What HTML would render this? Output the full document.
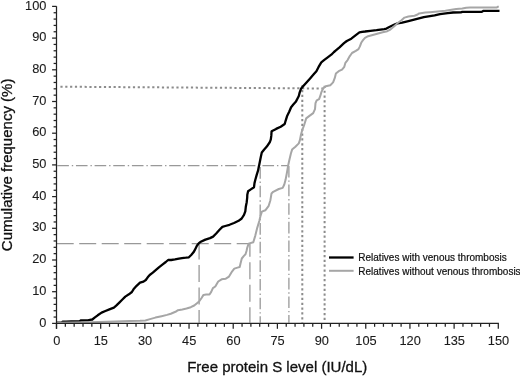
<!DOCTYPE html>
<html><head><meta charset="utf-8"><style>
html,body{margin:0;padding:0;background:#fff;}
body{width:520px;height:376px;overflow:hidden;font-family:"Liberation Sans",sans-serif;}
svg{display:block;will-change:transform;}
</style></head><body>
<svg width="520" height="376" viewBox="0 0 520 376">
<g stroke="#8c8c8c" stroke-width="2" fill="none">
<line x1="60.4" y1="86.7" x2="325" y2="88.5" stroke-dasharray="2.2 2.633"/>
<line x1="302.3" y1="85.2" x2="302.3" y2="322.5" stroke-dasharray="2.2 2.633"/>
<line x1="324.6" y1="85.8" x2="324.6" y2="322.5" stroke-dasharray="2.2 2.633"/>
</g>
<g stroke="#999" stroke-width="1.3" fill="none">
<line x1="57.3" y1="165.7" x2="289" y2="165.7" stroke-dasharray="11.6 2.9 1.4 2.75"/>
<line x1="260.2" y1="165.7" x2="260.2" y2="322.7" stroke-dasharray="11.6 2.9 1.4 2.75" stroke-dashoffset="-1.4"/>
<line x1="288.9" y1="165.7" x2="288.9" y2="322.7" stroke-dasharray="11.6 2.9 1.4 2.75" stroke-dashoffset="-0.2"/>
</g>
<g stroke="#999" stroke-width="1.3" fill="none">
<line x1="56.7" y1="243.6" x2="250.1" y2="243.6" stroke-dasharray="17 5.5"/>
<line x1="199.1" y1="243.6" x2="199.1" y2="322.7" stroke-dasharray="17 5.5" stroke-dashoffset="1"/>
<line x1="249.9" y1="243.6" x2="249.9" y2="322.7" stroke-dasharray="17 5.5" stroke-dashoffset="3.8"/>
</g>
<polyline points="56.5,322.6 62.0,322.3 62.5,321.7 66.1,321.7 71.4,321.3 79.8,321.1 80.5,320.5 87.9,320.4 90.0,319.9 92.3,319.5 94.6,317.6 97.7,315.3 101.6,312.6 105.4,311.0 110.0,309.1 113.9,307.6 116.2,305.6 119.3,302.6 122.4,299.5 125.3,296.6 128.9,294.3 131.9,292.0 133.5,289.3 136.6,285.8 140.0,282.7 143.5,281.6 145.8,280.0 147.7,277.3 149.7,275.0 152.8,272.7 155.4,270.4 158.9,267.3 162.7,264.3 165.8,262.0 168.1,260.0 171.2,260.0 175.0,259.4 178.9,258.6 182.0,258.1 185.8,257.7 188.9,257.3 191.2,255.0 193.5,252.3 194.6,250.4 196.9,245.8 198.9,243.1 200.8,241.8 205.4,239.6 210.0,238.1 213.1,236.6 216.2,233.5 219.3,230.0 222.4,226.9 225.3,226.0 229.5,224.8 234.0,223.0 238.6,220.8 241.7,218.5 244.0,214.9 245.3,211.3 245.8,206.8 246.7,202.2 247.2,197.7 247.3,194.8 248.1,191.2 250.8,189.4 254.0,187.2 254.5,183.1 255.4,179.5 256.7,174.9 258.1,170.4 258.8,166.8 259.3,164.5 260.0,161.0 260.9,156.5 261.8,152.4 264.0,149.7 266.8,146.6 269.9,142.0 270.8,139.3 271.3,135.7 271.6,131.2 276.1,128.9 280.7,126.7 284.7,124.0 285.6,120.8 287.0,116.3 289.2,111.8 291.1,107.2 293.3,104.5 296.0,101.4 297.4,98.7 298.8,96.0 299.7,92.4 301.0,88.8 303.3,86.1 306.5,82.5 310.1,78.4 313.7,74.3 316.4,71.2 318.6,66.9 321.3,62.4 324.0,60.2 327.7,57.4 331.3,54.7 334.0,52.0 335.9,50.4 339.5,47.3 344.0,43.2 346.8,41.0 351.3,38.7 355.8,35.1 359.4,32.4 362.1,31.8 365.0,31.5 370.4,30.8 376.5,30.2 380.4,29.6 384.2,29.1 386.5,28.6 388.8,27.3 391.9,25.8 395.0,24.4 397.6,23.4 402.2,22.6 408.4,21.1 416.1,19.2 423.8,17.2 430.0,16.2 434.6,15.4 440.0,14.2 447.7,13.1 453.1,12.5 460.8,12.3 462.3,11.8 481.5,11.9 483.5,10.8 499.5,10.8" fill="none" stroke="#000" stroke-width="2.3" stroke-linejoin="round"/>
<polyline points="56.5,322.8 90.0,322.3 115.0,321.6 130.0,321.0 140.0,320.8 145.4,320.5 150.0,319.1 155.4,317.6 161.6,316.2 167.0,314.9 170.8,313.7 175.5,311.8 178.0,310.2 182.3,309.4 186.5,308.5 190.8,307.2 194.2,305.5 196.7,303.4 199.3,301.3 201.4,298.3 203.5,294.9 206.1,294.5 209.5,294.5 211.2,291.9 212.9,288.1 215.3,286.5 218.2,281.5 221.6,279.3 225.8,278.7 229.0,276.6 232.2,271.3 234.3,268.6 237.5,267.6 239.7,267.0 240.7,262.8 241.8,258.5 243.9,255.9 245.5,254.3 246.5,251.0 247.3,247.6 248.6,243.6 253.3,242.2 255.3,235.6 257.3,227.6 259.3,221.0 260.6,215.6 261.9,211.6 265.3,210.3 268.7,205.8 270.4,200.2 271.5,193.5 273.2,191.8 278.8,189.0 282.7,187.9 284.3,184.5 285.5,180.1 286.6,174.5 287.4,170.0 288.1,165.8 289.3,160.2 290.9,153.5 292.1,149.6 295.4,146.8 298.8,143.4 299.9,140.1 301.0,134.5 302.3,130.0 304.4,124.3 306.2,118.4 309.1,116.1 313.2,113.1 315.0,109.1 315.5,103.2 316.7,100.3 319.1,99.1 320.2,96.2 321.4,92.1 323.1,88.5 325.8,86.3 330.3,85.2 333.1,82.4 334.8,77.9 335.9,73.5 338.7,71.2 342.0,69.6 344.3,66.8 345.4,62.8 347.6,60.1 349.8,56.1 352.0,53.0 355.8,50.9 358.5,49.1 359.9,46.4 361.2,42.8 363.0,40.1 365.0,37.8 368.1,36.2 372.7,35.0 378.1,33.5 382.7,32.3 387.3,31.2 390.4,29.6 393.0,27.2 395.0,25.6 397.6,23.0 401.5,20.3 404.5,17.6 408.4,16.5 414.5,15.7 417.6,14.5 419.2,13.4 425.3,12.6 430.0,12.2 437.7,11.5 445.4,10.8 450.0,10.0 456.2,9.1 462.3,8.5 466.2,7.8 470.0,7.6 497.0,7.5 497.5,6.8 498.8,6.8" fill="none" stroke="#a6a6a6" stroke-width="2.0" stroke-linejoin="round"/>
<g stroke="#222" stroke-width="1.25"><line x1="56.5" y1="6.3" x2="56.5" y2="328.8"/><line x1="55.9" y1="323.4" x2="498.9" y2="323.4"/><line x1="52.1" y1="323.40" x2="56.5" y2="323.40"/><line x1="53.6" y1="317.06" x2="56.5" y2="317.06"/><line x1="53.6" y1="310.72" x2="56.5" y2="310.72"/><line x1="53.6" y1="304.38" x2="56.5" y2="304.38"/><line x1="53.6" y1="298.04" x2="56.5" y2="298.04"/><line x1="52.1" y1="291.70" x2="56.5" y2="291.70"/><line x1="53.6" y1="285.36" x2="56.5" y2="285.36"/><line x1="53.6" y1="279.02" x2="56.5" y2="279.02"/><line x1="53.6" y1="272.68" x2="56.5" y2="272.68"/><line x1="53.6" y1="266.34" x2="56.5" y2="266.34"/><line x1="52.1" y1="260.00" x2="56.5" y2="260.00"/><line x1="53.6" y1="253.66" x2="56.5" y2="253.66"/><line x1="53.6" y1="247.32" x2="56.5" y2="247.32"/><line x1="53.6" y1="240.98" x2="56.5" y2="240.98"/><line x1="53.6" y1="234.64" x2="56.5" y2="234.64"/><line x1="52.1" y1="228.30" x2="56.5" y2="228.30"/><line x1="53.6" y1="221.96" x2="56.5" y2="221.96"/><line x1="53.6" y1="215.62" x2="56.5" y2="215.62"/><line x1="53.6" y1="209.28" x2="56.5" y2="209.28"/><line x1="53.6" y1="202.94" x2="56.5" y2="202.94"/><line x1="52.1" y1="196.60" x2="56.5" y2="196.60"/><line x1="53.6" y1="190.26" x2="56.5" y2="190.26"/><line x1="53.6" y1="183.92" x2="56.5" y2="183.92"/><line x1="53.6" y1="177.58" x2="56.5" y2="177.58"/><line x1="53.6" y1="171.24" x2="56.5" y2="171.24"/><line x1="52.1" y1="164.90" x2="56.5" y2="164.90"/><line x1="53.6" y1="158.56" x2="56.5" y2="158.56"/><line x1="53.6" y1="152.22" x2="56.5" y2="152.22"/><line x1="53.6" y1="145.88" x2="56.5" y2="145.88"/><line x1="53.6" y1="139.54" x2="56.5" y2="139.54"/><line x1="52.1" y1="133.20" x2="56.5" y2="133.20"/><line x1="53.6" y1="126.86" x2="56.5" y2="126.86"/><line x1="53.6" y1="120.52" x2="56.5" y2="120.52"/><line x1="53.6" y1="114.18" x2="56.5" y2="114.18"/><line x1="53.6" y1="107.84" x2="56.5" y2="107.84"/><line x1="52.1" y1="101.50" x2="56.5" y2="101.50"/><line x1="53.6" y1="95.16" x2="56.5" y2="95.16"/><line x1="53.6" y1="88.82" x2="56.5" y2="88.82"/><line x1="53.6" y1="82.48" x2="56.5" y2="82.48"/><line x1="53.6" y1="76.14" x2="56.5" y2="76.14"/><line x1="52.1" y1="69.80" x2="56.5" y2="69.80"/><line x1="53.6" y1="63.46" x2="56.5" y2="63.46"/><line x1="53.6" y1="57.12" x2="56.5" y2="57.12"/><line x1="53.6" y1="50.78" x2="56.5" y2="50.78"/><line x1="53.6" y1="44.44" x2="56.5" y2="44.44"/><line x1="52.1" y1="38.10" x2="56.5" y2="38.10"/><line x1="53.6" y1="31.76" x2="56.5" y2="31.76"/><line x1="53.6" y1="25.42" x2="56.5" y2="25.42"/><line x1="53.6" y1="19.08" x2="56.5" y2="19.08"/><line x1="53.6" y1="12.74" x2="56.5" y2="12.74"/><line x1="52.1" y1="6.40" x2="56.5" y2="6.40"/><line x1="56.50" y1="323.4" x2="56.50" y2="328.8"/><line x1="65.34" y1="323.4" x2="65.34" y2="326.8"/><line x1="74.17" y1="323.4" x2="74.17" y2="326.8"/><line x1="83.01" y1="323.4" x2="83.01" y2="326.8"/><line x1="91.84" y1="323.4" x2="91.84" y2="326.8"/><line x1="100.68" y1="323.4" x2="100.68" y2="328.8"/><line x1="109.52" y1="323.4" x2="109.52" y2="326.8"/><line x1="118.35" y1="323.4" x2="118.35" y2="326.8"/><line x1="127.19" y1="323.4" x2="127.19" y2="326.8"/><line x1="136.02" y1="323.4" x2="136.02" y2="326.8"/><line x1="144.86" y1="323.4" x2="144.86" y2="328.8"/><line x1="153.70" y1="323.4" x2="153.70" y2="326.8"/><line x1="162.53" y1="323.4" x2="162.53" y2="326.8"/><line x1="171.37" y1="323.4" x2="171.37" y2="326.8"/><line x1="180.20" y1="323.4" x2="180.20" y2="326.8"/><line x1="189.04" y1="323.4" x2="189.04" y2="328.8"/><line x1="197.88" y1="323.4" x2="197.88" y2="326.8"/><line x1="206.71" y1="323.4" x2="206.71" y2="326.8"/><line x1="215.55" y1="323.4" x2="215.55" y2="326.8"/><line x1="224.38" y1="323.4" x2="224.38" y2="326.8"/><line x1="233.22" y1="323.4" x2="233.22" y2="328.8"/><line x1="242.06" y1="323.4" x2="242.06" y2="326.8"/><line x1="250.89" y1="323.4" x2="250.89" y2="326.8"/><line x1="259.73" y1="323.4" x2="259.73" y2="326.8"/><line x1="268.56" y1="323.4" x2="268.56" y2="326.8"/><line x1="277.40" y1="323.4" x2="277.40" y2="328.8"/><line x1="286.24" y1="323.4" x2="286.24" y2="326.8"/><line x1="295.07" y1="323.4" x2="295.07" y2="326.8"/><line x1="303.91" y1="323.4" x2="303.91" y2="326.8"/><line x1="312.74" y1="323.4" x2="312.74" y2="326.8"/><line x1="321.58" y1="323.4" x2="321.58" y2="328.8"/><line x1="330.42" y1="323.4" x2="330.42" y2="326.8"/><line x1="339.25" y1="323.4" x2="339.25" y2="326.8"/><line x1="348.09" y1="323.4" x2="348.09" y2="326.8"/><line x1="356.92" y1="323.4" x2="356.92" y2="326.8"/><line x1="365.76" y1="323.4" x2="365.76" y2="328.8"/><line x1="374.60" y1="323.4" x2="374.60" y2="326.8"/><line x1="383.43" y1="323.4" x2="383.43" y2="326.8"/><line x1="392.27" y1="323.4" x2="392.27" y2="326.8"/><line x1="401.10" y1="323.4" x2="401.10" y2="326.8"/><line x1="409.94" y1="323.4" x2="409.94" y2="328.8"/><line x1="418.78" y1="323.4" x2="418.78" y2="326.8"/><line x1="427.61" y1="323.4" x2="427.61" y2="326.8"/><line x1="436.45" y1="323.4" x2="436.45" y2="326.8"/><line x1="445.28" y1="323.4" x2="445.28" y2="326.8"/><line x1="454.12" y1="323.4" x2="454.12" y2="328.8"/><line x1="462.96" y1="323.4" x2="462.96" y2="326.8"/><line x1="471.79" y1="323.4" x2="471.79" y2="326.8"/><line x1="480.63" y1="323.4" x2="480.63" y2="326.8"/><line x1="489.46" y1="323.4" x2="489.46" y2="326.8"/><line x1="498.30" y1="323.4" x2="498.30" y2="328.8"/></g>
<g font-family="Liberation Sans" font-size="12.8" fill="#1a1a1a" stroke="#1a1a1a" stroke-width="0.1"><text x="46.4" y="326.50" text-anchor="end">0</text><text x="46.4" y="294.80" text-anchor="end">10</text><text x="46.4" y="263.10" text-anchor="end">20</text><text x="46.4" y="231.40" text-anchor="end">30</text><text x="46.4" y="199.70" text-anchor="end">40</text><text x="46.4" y="168.00" text-anchor="end">50</text><text x="46.4" y="136.30" text-anchor="end">60</text><text x="46.4" y="104.60" text-anchor="end">70</text><text x="46.4" y="72.90" text-anchor="end">80</text><text x="46.4" y="41.20" text-anchor="end">90</text><text x="46.4" y="9.50" text-anchor="end">100</text><text x="56.70" y="345.1" text-anchor="middle">0</text><text x="100.88" y="345.1" text-anchor="middle">15</text><text x="145.06" y="345.1" text-anchor="middle">30</text><text x="189.24" y="345.1" text-anchor="middle">45</text><text x="233.42" y="345.1" text-anchor="middle">60</text><text x="277.60" y="345.1" text-anchor="middle">75</text><text x="321.78" y="345.1" text-anchor="middle">90</text><text x="365.96" y="345.1" text-anchor="middle">105</text><text x="410.14" y="345.1" text-anchor="middle">120</text><text x="454.32" y="345.1" text-anchor="middle">135</text><text x="498.50" y="345.1" text-anchor="middle">150</text></g>
<text x="277.2" y="371.9" text-anchor="middle" font-family="Liberation Sans" font-size="15" fill="#111" stroke="#111" stroke-width="0.3">Free protein S level (IU/dL)</text>
<text transform="translate(11.7,164.9) rotate(-90)" x="0" y="0" text-anchor="middle" font-family="Liberation Sans" font-size="15" fill="#111" stroke="#111" stroke-width="0.3">Cumulative frequency (%)</text>
<line x1="329" y1="257.5" x2="353.6" y2="257.5" stroke="#000" stroke-width="2.3"/>
<line x1="329" y1="270.8" x2="353.6" y2="270.8" stroke="#a6a6a6" stroke-width="2.0"/>
<text x="358.3" y="261.3" font-family="Liberation Sans" font-size="10" fill="#111" stroke="#111" stroke-width="0.2">Relatives with venous thrombosis</text>
<text x="358.3" y="274.6" font-family="Liberation Sans" font-size="10" fill="#111" stroke="#111" stroke-width="0.2">Relatives without venous thrombosis</text>
</svg>
</body></html>
